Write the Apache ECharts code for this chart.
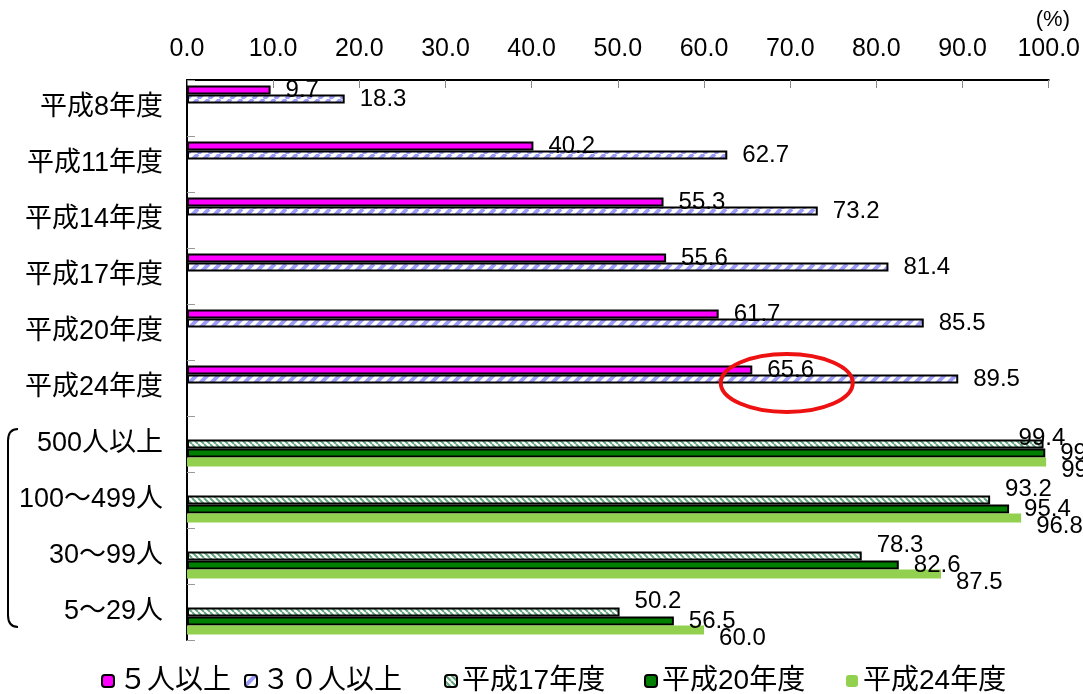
<!DOCTYPE html>
<html>
<head>
<meta charset="utf-8">
<script src="https://cdn.jsdelivr.net/npm/echarts@6/dist/echarts.min.js"></script>
<style>
  html, body { margin: 0; padding: 0; background: #fff; }
  #chart { width: 1083px; height: 694px; }
</style>
</head>
<body>
<div id="chart"></div>
<script>
// 区分（上から）
const categories = ['平成8年度', '平成11年度', '平成14年度', '平成17年度', '平成20年度', '平成24年度',
    '500人以上', '100～499人', '30～99人', '5～29人'];
const seriesNames = ['５人以上', '３０人以上', '平成17年度', '平成20年度', '平成24年度'];

// 年度別の推移
const over5 = [9.7, 40.2, 55.3, 55.6, 61.7, 65.6, null, null, null, null];
const over30 = [18.3, 62.7, 73.2, 81.4, 85.5, 89.5, null, null, null, null];
// 規模別
const h17 = [null, null, null, null, null, null, 99.4, 93.2, 78.3, 50.2];
const h20 = [null, null, null, null, null, null, 99.6, 95.4, 82.6, 56.5];
const h24 = [null, null, null, null, null, null, 99.7, 96.8, 87.5, 60.0];

const xTicks = { min: 0, max: 100, interval: 10 };

const FONT = "'Liberation Sans', 'Noto Sans CJK JP', sans-serif";

function makeHatch(fg, size, lw, back) {
    const c = document.createElement('canvas');
    c.width = c.height = size;
    const g = c.getContext('2d');
    g.fillStyle = '#fff';
    g.fillRect(0, 0, size, size);
    g.strokeStyle = fg;
    g.lineWidth = lw;
    g.beginPath();
    for (let k = -1; k <= 1; k++) {
        if (back) { g.moveTo(k * size, 0); g.lineTo(k * size + size, size); }
        else { g.moveTo(k * size, size); g.lineTo(k * size + size, 0); }
    }
    g.stroke();
    return c;
}

const blueHatch = { image: makeHatch('#9c9cf6', 11, 4, false), repeat: 'repeat' };
const greenHatch = { image: makeHatch('#62a67e', 6, 2, true), repeat: 'repeat' };

function barSeries(name, data, fill, border, labelOffset) {
    return {
        name: name,
        type: 'bar',
        data: data,
        barGap: '0%',
        barCategoryGap: '20%',
        itemStyle: { color: fill, borderColor: border ? '#000' : fill, borderWidth: border ? 2 : 0 },
        label: {
            show: true, position: 'right', distance: 15, offset: labelOffset,
            color: '#000', fontSize: 24, fontFamily: FONT,
            formatter: p => p.value == null ? '' : Number(p.value).toFixed(1)
        }
    };
}

const s17 = barSeries(seriesNames[2], h17, greenHatch, true, [0, -11]);
// 500人以上の平成17年度ラベルは棒の上に寄せてある
s17.data = h17.map((v, i) => i === 6 ? { value: v, label: { offset: [-40, -6] } } : v);

// 凡例は一つずつ並べる
const legendLeft = [96, 239, 439, 639, 841];
const legends = seriesNames.map((n, i) => ({
    data: [n], left: legendLeft[i], top: 662,
    itemWidth: 12, itemHeight: 12,
    textStyle: { fontSize: 28, color: '#000', fontFamily: FONT }
}));

const chart = echarts.init(document.getElementById('chart'));
chart.setOption({
    animation: false,
    backgroundColor: '#fff',
    textStyle: { fontFamily: FONT },
    title: {
        text: '(%)', right: 8, top: 4,
        textStyle: { fontSize: 22, fontWeight: 'normal', color: '#000', fontFamily: FONT }
    },
    grid: { left: 187, right: 30, top: 80, bottom: 54 },
    legend: legends,
    xAxis: {
        type: 'value', position: 'top',
        min: xTicks.min, max: xTicks.max, interval: xTicks.interval,
        axisLine: { show: true, lineStyle: { color: '#000', width: 2 } },
        axisTick: { show: true, inside: true, length: 8, lineStyle: { color: '#888' } },
        axisLabel: { fontSize: 25, color: '#000', margin: 18, formatter: v => v.toFixed(1), fontFamily: FONT },
        splitLine: { show: false }
    },
    yAxis: {
        type: 'category', inverse: true, data: categories,
        axisLine: { show: true, lineStyle: { color: '#000', width: 2 } },
        axisTick: { show: true, inside: true, length: 8, lineStyle: { color: '#999' } },
        axisLabel: { fontSize: 27, color: '#000', margin: 24, fontFamily: FONT }
    },
    series: [
        barSeries(seriesNames[0], over5, '#ff00ff', true, [0, 0]),
        barSeries(seriesNames[1], over30, blueHatch, true, [0, 0]),
        s17,
        barSeries(seriesNames[3], h20, '#007f00', true, [0, 0]),
        barSeries(seriesNames[4], h24, '#92d050', false, [0, 8])
    ]
});

// 注記：平成24年度の丸囲み、規模別の括弧
const c = chart.convertToPixel({ gridIndex: 0 }, [69.6, '平成24年度']);
const top6 = chart.convertToPixel({ gridIndex: 0 }, [0, '500人以上']);
const bot6 = chart.convertToPixel({ gridIndex: 0 }, [0, '5～29人']);
const bt = top6[1] - 15, bb = bot6[1] + 15;
chart.setOption({
    graphic: [
        { type: 'ellipse', shape: { cx: c[0], cy: c[1] - 5, rx: 66, ry: 29 },
          style: { fill: 'none', stroke: '#ee1111', lineWidth: 4 }, z: 100 },
        { type: 'bezierCurve', shape: { x1: 18, y1: bt, x2: 8, y2: bt + 12, cpx1: 8, cpy1: bt },
          style: { fill: 'none', stroke: '#000', lineWidth: 2 } },
        { type: 'line', shape: { x1: 8, y1: bt + 12, x2: 8, y2: bb - 12 },
          style: { stroke: '#000', lineWidth: 2 } },
        { type: 'bezierCurve', shape: { x1: 8, y1: bb - 12, x2: 18, y2: bb, cpx1: 8, cpy1: bb },
          style: { fill: 'none', stroke: '#000', lineWidth: 2 } }
    ]
});
</script>
</body>
</html>
